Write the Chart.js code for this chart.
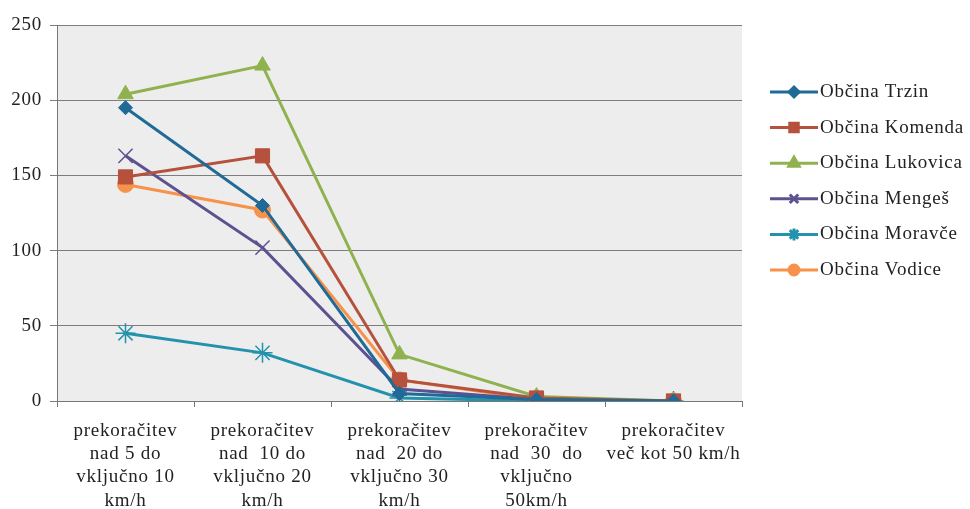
<!DOCTYPE html>
<html>
<head>
<meta charset="utf-8">
<script src="https://cdn.jsdelivr.net/npm/chart.js@4"></script>
<style>
html,body{margin:0;padding:0;background:#fff;}
#wrap{width:970px;height:509px;position:relative;}
</style>
</head>
<body>
<div id="wrap"><canvas id="c" width="970" height="509"></canvas></div>
<script>
const categories = [
  ["prekoračitev", "nad 5 do", "vključno 10", "km/h"],
  ["prekoračitev", "nad  10 do", "vključno 20", "km/h"],
  ["prekoračitev", "nad  20 do", "vključno 30", "km/h"],
  ["prekoračitev", "nad  30  do", "vključno", "50km/h"],
  ["prekoračitev", "več kot 50 km/h"]
];
const seriesNames = ["Občina Trzin", "Občina Komenda", "Občina Lukovica", "Občina Mengeš", "Občina Moravče", "Občina Vodice"];
const trzin    = [195, 130, 5, 1, 0];
const komenda  = [149, 163, 14, 2, 0];
const lukovica = [204, 223, 31, 3, 0];
const menges   = [163, 102, 8, 1, 0];
const moravce  = [45, 32, 2, 0, 0];
const vodice   = [144, 127, 14, 1, 0];
const yTicks = [0, 50, 100, 150, 200, 250];

const seriesData = [trzin, komenda, lukovica, menges, moravce, vodice];
const colors = ["#1f6a96", "#b5513c", "#8fb24f", "#5e5190", "#2392ac", "#f7924a"];
const styles = ["rectRot", "rect", "triangle", "crossRot", "star", "circle"];
const radii = [7, 10, 9, 10, 10, 8];
const legendRadii = [5, 6, 6, 6, 6, 5];

const FONT = "'Liberation Serif', 'DejaVu Serif', serif";
const SPACING = '0.75px';

const spacingPlugin = {
  id: 'spacing',
  beforeUpdate(chart) { chart.ctx.letterSpacing = SPACING; },
  beforeLayout(chart) { chart.ctx.letterSpacing = SPACING; },
  beforeDraw(chart) { chart.ctx.letterSpacing = SPACING; }
};

const bgPlugin = {
  id: 'bg',
  beforeDraw(chart) {
    const a = chart.chartArea, ctx = chart.ctx;
    ctx.save();
    ctx.fillStyle = '#ededed';
    ctx.fillRect(a.left, a.top, a.right - a.left, a.bottom - a.top);
    ctx.restore();
  }
};

const legendPlugin = {
  id: 'customLegend',
  afterDraw(chart) {
    const ctx = chart.ctx;
    ctx.save();
    ctx.letterSpacing = SPACING;
    chart.data.datasets.forEach((ds, i) => {
      const y = 92 + i * 35.6;
      ctx.strokeStyle = ds.borderColor;
      ctx.lineWidth = 3;
      ctx.beginPath();
      ctx.moveTo(770, y);
      ctx.lineTo(818, y);
      ctx.stroke();
      ctx.fillStyle = ds.borderColor;
      ctx.strokeStyle = ds.borderColor;
      Chart.helpers.drawPoint(ctx, {
        pointStyle: ds.pointStyle,
        radius: legendRadii[i],
        borderWidth: 1.5,
        rotation: 0
      }, 794, y);
      ctx.fillStyle = '#222';
      ctx.font = "19px " + FONT;
      ctx.textBaseline = 'middle';
      ctx.textAlign = 'left';
      ctx.fillText(ds.label, 820, y);
    });
    ctx.restore();
  }
};

new Chart(document.getElementById('c'), {
  type: 'line',
  data: {
    labels: categories,
    datasets: seriesData.map((d, i) => ({
      label: seriesNames[i],
      data: d,
      borderColor: colors[i],
      backgroundColor: colors[i],
      pointBackgroundColor: colors[i],
      pointBorderColor: colors[i],
      pointStyle: styles[i],
      pointRadius: radii[i],
      pointBorderWidth: (styles[i] === 'crossRot' || styles[i] === 'star') ? 1.5 : 1,
      borderWidth: 3,
      tension: 0,
      fill: false
    }))
  },
  options: {
    responsive: false,
    animation: false,
    devicePixelRatio: 1,
    layout: { padding: { top: 25, right: 228, left: 0, bottom: 0 } },
    plugins: {
      legend: { display: false },
      tooltip: { enabled: false }
    },
    scales: {
      x: {
        offset: true,
        grid: { display: true, drawOnChartArea: false, drawTicks: true, tickLength: 6, color: '#777', offset: true },
        border: { display: true, color: '#777', width: 1 },
        ticks: {
          color: '#222',
          font: { family: FONT, size: 19, lineHeight: 1.23 },
          maxRotation: 0,
          autoSkip: false,
          padding: 12
        },
        afterFit(scale) { scale.height = 108; }
      },
      y: {
        min: 0,
        max: 250,
        afterBuildTicks(scale) { scale.ticks = yTicks.map(v => ({ value: v })); },
        grid: { color: '#7d7d7d', lineWidth: 1, drawTicks: true, tickLength: 7 },
        border: { display: true, color: '#777', width: 1 },
        ticks: {
          color: '#222',
          font: { family: FONT, size: 19 },
          padding: 8
        },
        afterFit(scale) { scale.width = 57; }
      }
    }
  },
  plugins: [spacingPlugin, bgPlugin, legendPlugin]
});
</script>
</body>
</html>
